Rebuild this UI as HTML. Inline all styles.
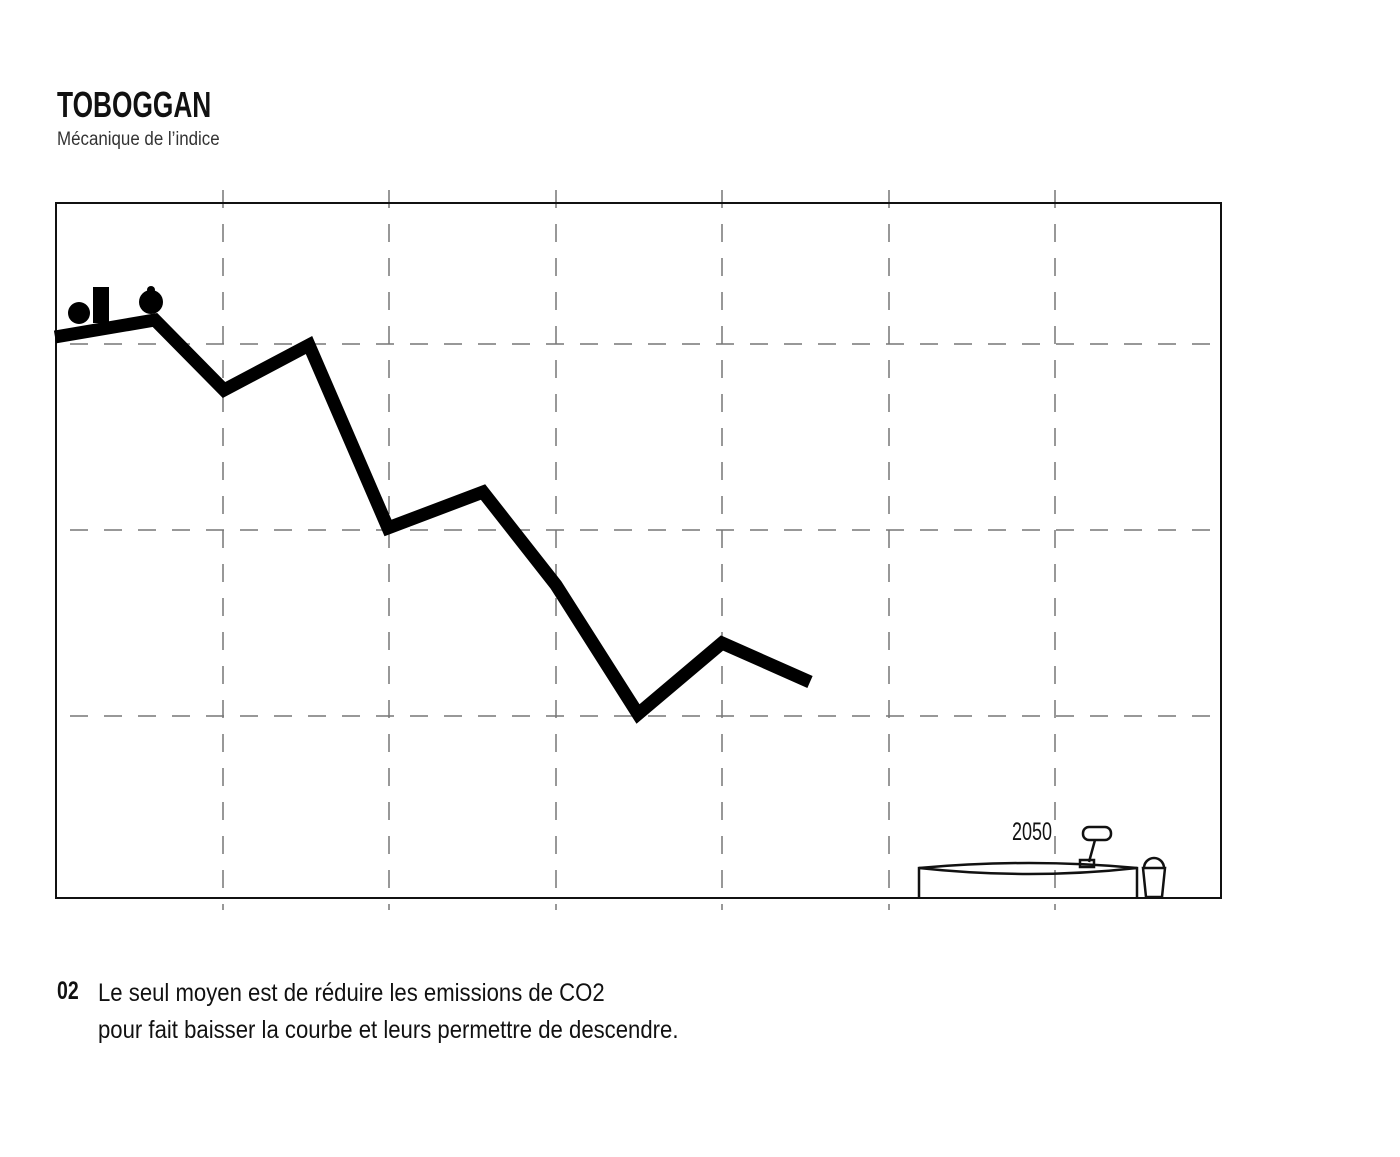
<!DOCTYPE html>
<html><head><style>
body{margin:0;background:#fff;width:1400px;height:1157px;overflow:hidden;font-family:"Liberation Sans",sans-serif;color:#111}
.t{position:absolute;transform-origin:0 0;white-space:nowrap}
</style></head><body>
<div class="t" style="left:57px;top:84px;font-size:36px;font-weight:bold;transform:scaleX(0.73)">TOBOGGAN</div>
<div class="t" style="left:57px;top:129px;font-size:19px;color:#333;transform:scaleX(0.89)">Mécanique de l’indice</div>
<svg width="1400" height="1157" style="position:absolute;left:0;top:0">
<g stroke="#777" stroke-width="1.5" stroke-dasharray="18,16" fill="none">
<path d="M223 190V910M389 190V910M556 190V910M722 190V910M889 190V910M1055 190V910"/>
<path d="M70 344H1221M70 530H1221M70 716H1221"/>
</g>
<rect x="56" y="203" width="1165" height="695" fill="none" stroke="#111" stroke-width="2"/>
<polyline points="55,337 155,320 224,390 309,345 388,528 483,492 556,585 638,714 722,643 810,682" fill="none" stroke="#000" stroke-width="13" stroke-linejoin="miter"/>
<circle cx="79" cy="313" r="11" fill="#000"/>
<rect x="93" y="287" width="16" height="36" fill="#000"/>
<circle cx="151" cy="302" r="12" fill="#000"/>
<circle cx="151" cy="290" r="4" fill="#000"/>
<g fill="none" stroke="#111" stroke-width="2.5">
<path d="M919 897V868Q1030 858 1137 868V897"/>
<path d="M919 868Q1030 880 1137 868"/>
<rect x="1083" y="827" width="28" height="13" rx="6"/>
<path d="M1095 840L1089 862"/>
<rect x="1080" y="860" width="14" height="7"/>
<path d="M1143 868H1165L1162 897H1146Z"/>
<path d="M1144 868A10 10 0 0 1 1164 868"/>
</g>
</svg>
<div class="t" style="left:1012px;top:818px;font-size:25px;transform:scaleX(0.72)">2050</div>
<div class="t" style="left:57px;top:977px;font-size:25px;font-weight:bold;transform:scaleX(0.78)">02</div>
<div class="t" style="left:98px;top:975px;font-size:25px;line-height:37px;transform:scaleX(0.885)">Le seul moyen est de réduire les emissions de CO2<br>pour fait baisser la courbe et leurs permettre de descendre.</div>
</body></html>
